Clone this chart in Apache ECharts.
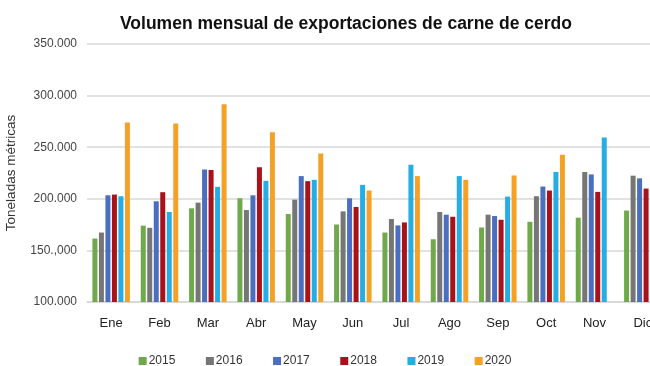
<!DOCTYPE html>
<html>
<head>
<meta charset="utf-8">
<script src="https://cdn.jsdelivr.net/npm/echarts@6/dist/echarts.min.js"></script>
<style>
html,body{margin:0;padding:0;background:#fff;}
#chart{width:650px;height:366px;}
</style>
</head>
<body>
<div id="chart"></div>
<script>
const categories = ["Ene","Feb","Mar","Abr","May","Jun","Jul","Ago","Sep","Oct","Nov","Dic"];
const years = ["2015","2016","2017","2018","2019","2020"];
const s2015 = [161500,174000,190800,200500,185200,175100,167300,160800,172200,177700,181700,188600];
const s2016 = [167300,171900,196300,189100,199200,187800,180400,187200,184600,202500,225900,222400];
const s2017 = [203400,197600,228500,203400,222000,200500,174200,184600,183300,211900,223600,219800];
const s2018 = [204100,206400,227900,230500,217100,192100,177100,182600,179700,208000,206700,209900];
const s2019 = [202500,187200,211600,217400,218400,213500,233100,222000,202100,225900,259400,278000];
const s2020 = [274000,273000,291600,264600,243800,208000,222000,218400,222600,242800,null,null];
const yTickLabels = ["100.000","150.,000","200.000","250.000","300.000","350.000"];
const colors = ["#6fa94b","#767676","#4a6fbf","#a8121b","#26ade3","#f4a128"];

const seriesData = [s2015,s2016,s2017,s2018,s2019,s2020];
const chart = echarts.init(document.getElementById('chart'));
chart.setOption({
  animation:false,
  textStyle:{fontFamily:'Liberation Sans, Arial, sans-serif'},
  title:{
    text:'Volumen mensual de exportaciones de carne de cerdo',
    left:115, top:10,
    textStyle:{fontSize:17.5,fontWeight:'bold',color:'#111',fontFamily:'Liberation Sans, Arial, sans-serif'}
  },
  color:colors,
  legend:{
    data:years, top:350, left:'center',
    itemWidth:8, itemHeight:8, itemGap:30.5, icon:'rect',
    textStyle:{fontSize:12,color:'#333',padding:[0,0,0,-3]}
  },
  grid:{left:87,width:580,top:44,height:258,containLabel:false,outerBoundsMode:'none'},
  xAxis:{
    type:'category', data:categories,
    axisLine:{show:true,lineStyle:{color:'#d6d6d6',width:1.5}},
    axisTick:{show:false},
    axisLabel:{color:'#222',fontSize:13,margin:15}
  },
  yAxis:{
    type:'value', min:100000, max:350000, interval:50000,
    name:'Toneladas métricas', nameLocation:'middle', nameRotate:90, nameGap:69,
    nameTextStyle:{fontSize:13.5,color:'#333'},
    axisLine:{show:false}, axisTick:{show:false},
    axisLabel:{color:'#444',fontSize:12,margin:10,
      formatter:function(v){return yTickLabels[Math.round((v-100000)/50000)];}},
    splitLine:{lineStyle:{color:'#d9d9d9',width:1.5}}
  },
  series:years.map((y,i)=>({
    name:y, type:'bar', data:seriesData[i],
    barWidth:5, barGap:'30%'
  }))
});
</script>
</body>
</html>
